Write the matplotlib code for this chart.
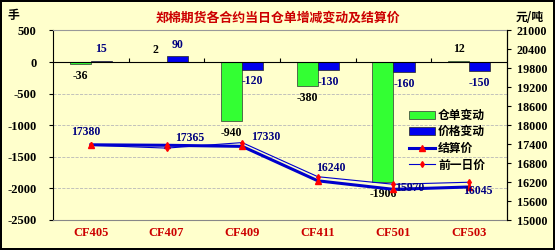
import matplotlib.pyplot as plt
import numpy as np

plt.rcParams['font.family'] = ['Liberation Serif', 'Noto Sans CJK SC']
plt.rcParams['axes.unicode_minus'] = False

contracts = ['CF405', 'CF407', 'CF409', 'CF411', 'CF501', 'CF503']
warrant_chg = [-36, 2, -940, -380, -1906, 12]      # 仓单变动, 手
price_chg = [15, 90, -120, -130, -160, -150]       # 价格变动, 元/吨
settle = [17380, 17365, 17330, 16240, 15970, 16045]  # 结算价
prev_price = [17365, 17275, 17450, 16370, 16130, 16195]  # 前一日价
left_ticks = [500, 0, -500, -1000, -1500, -2000, -2500]
right_ticks = [21000, 20400, 19800, 19200, 18600, 18000, 17400, 16800, 16200, 15600, 15000]

# label offsets for the settlement price labels (points)
settle_off = [(-4, 9), (17, 5), (17, 7), (9, 9), (12, 1), (6, -3)]

bg = '#FFFFCC'
navy = '#000080'
fig = plt.figure(figsize=(5.55, 2.5), dpi=100, facecolor=bg, edgecolor='black', linewidth=1.5)
ax = fig.add_axes([53/555, 1-220/250, (507-53)/555, (220-30.4)/250])
ax.set_facecolor(bg)

x = np.arange(len(contracts))
w = 0.28
b1 = ax.bar(x - w/2, warrant_chg, w, color='#33FF33', edgecolor='#333333', lw=0.5, label='仓单变动', zorder=3)
b2 = ax.bar(x + w/2, price_chg, w, color='#0000EE', edgecolor='#222222', lw=0.5, label='价格变动', zorder=3)
ax.set_xlim(-0.5, len(contracts)-0.5)
ax.set_ylim(-2500, 500)
ax.set_yticks(left_ticks)
ax.yaxis.grid(True, ls='--', color='#B8B8B8', lw=0.6)
ax.axhline(0, color='black', lw=0.8, zorder=4)
ax.vlines(x[:-1] + 0.5, 0, 60, color='black', lw=0.8, zorder=4)
ax.set_xticks(x)
ax.set_xticklabels(contracts, color='#CC0000', fontweight='bold', fontsize=9)
ax.tick_params(axis='x', length=0, pad=5)
ax.tick_params(axis='y', length=3, pad=9, labelsize=9)
for lab in ax.get_yticklabels():
    lab.set_fontweight('bold')
ax.spines['top'].set_color('#999999')
ax.spines['bottom'].set_color('#888888')
ax.spines['left'].set_color('black')

for xi, v in zip(x - w/2, warrant_chg):
    ax.annotate(str(v), (xi, v), xytext=(0, 8.5 if v >= 0 else -8.5), textcoords='offset points',
                ha='center', va='center', fontsize=8.5, fontweight='bold', color='black', zorder=6)
for xi, v in zip(x + w/2, price_chg):
    ax.annotate(str(v), (xi, v), xytext=(0, 8.5 if v >= 0 else -8.5), textcoords='offset points',
                ha='center', va='center', fontsize=8.5, fontweight='bold', color=navy, zorder=6)

ax2 = ax.twinx()
ax2.set_ylim(15000, 21000)
ax2.set_yticks(right_ticks)
ax2.tick_params(axis='y', length=3, pad=4, labelsize=8.7)
for lab in ax2.get_yticklabels():
    lab.set_fontweight('bold')
for s in ['top', 'bottom', 'left']:
    ax2.spines[s].set_visible(False)
l1, = ax2.plot(x, settle, color='#0000CC', lw=2.2, marker='^', ms=5, mfc='red', mec='red', label='结算价')
l2, = ax2.plot(x, prev_price, color='#0000CC', lw=0.8, marker='d', ms=3, mfc='red', mec='red', label='前一日价')
for xi, v, off in zip(x, settle, settle_off):
    ax2.annotate(str(v), (xi, v), xytext=off, textcoords='offset points',
                 ha='center', va='center', fontsize=8.5, fontweight='bold', color=navy)

leg = ax2.legend([b1, b2, l1, l2], ['仓单变动', '价格变动', '结算价', '前一日价'],
                 loc='upper left', bbox_to_anchor=(0.765, 0.63), frameon=False,
                 prop={'family': 'Noto Sans CJK SC', 'weight': 'bold', 'size': 8.5},
                 handlelength=2.2, handletextpad=0.3, labelspacing=0.3, borderpad=0.2)

fig.text(0.5, 1-18/250, '郑棉期货各合约当日仓单增减变动及结算价', ha='center', va='center',
         color='#CC0000', fontsize=9.3, fontweight='bold', family='Noto Sans CJK SC')
fig.text(13/555, 1-15/250, '手', ha='center', va='center', fontsize=8.5, fontweight='bold',
         family='Noto Sans CJK SC')
fig.text(530/555, 1-17/250, '元/吨', ha='center', va='center', fontsize=8.5, fontweight='bold',
         family='Noto Sans CJK SC')

fig.savefig('out.png', dpi=100, facecolor=bg, edgecolor='black')
